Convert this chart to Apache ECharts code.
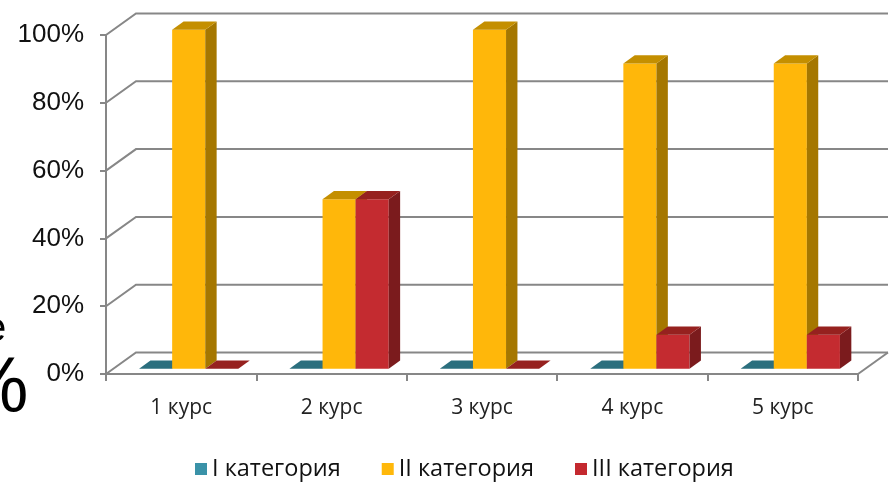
<!DOCTYPE html>
<html>
<head>
<meta charset="utf-8">
<script src="https://cdn.jsdelivr.net/npm/echarts@6/dist/echarts.min.js"></script>
<style>
  html, body { margin: 0; padding: 0; background: #fff; }
  #main { width: 894px; height: 485px; }
</style>
</head>
<body>
<div id="main"></div>
<script>
// data
const courses = ['1 курс', '2 курс', '3 курс', '4 курс', '5 курс'];
const seriesNames = ['I категория', 'II категория', 'III категория'];
const cat1 = [0, 0, 0, 0, 0];
const cat2 = [100, 50, 100, 90, 90];
const cat3 = [0, 50, 0, 10, 10];
const gridLevels = [0, 20, 40, 60, 80, 100];

// colours: legend / front, top, side
const palette = [
    { legend: '#3a92a8', front: '#31849b', top: '#2b6f7e', side: '#215a66' },
    { legend: '#ffb80a', front: '#ffb70a', top: '#c48f00', side: '#a57700' },
    { legend: '#c4292f', front: '#c42b30', top: '#96211f', side: '#7b1b1d' }
];

// 3d depth of the plot box, pixels
const DX = 30, DY = -21.5;
const D1 = 0.25, D2 = 0.63;

function barItem(s) {
    return function (params, api) {
        const i = api.value(0);
        const v = api.value(1);
        const band = api.size([1, 0])[0];
        const bw = band * 0.22;
        const c = api.coord([i, v]);
        const base = api.coord([i, 0]);
        const L = c[0] - 1.5 * bw + s * bw + DX * D1;
        const yv = c[1] + DY * D1;
        const y0 = base[1] + DY * D1;
        const ddx = DX * (D2 - D1), ddy = DY * (D2 - D1);
        const col = palette[s];
        const children = [];
        if (v > 0) {
            children.push({
                type: 'polygon',
                shape: { points: [[L, yv], [L + bw, yv], [L + bw, y0], [L, y0]] },
                style: { fill: col.front }
            });
            children.push({
                type: 'polygon',
                shape: { points: [[L + bw, yv], [L + bw + ddx, yv + ddy], [L + bw + ddx, y0 + ddy], [L + bw, y0]] },
                style: { fill: col.side }
            });
        }
        children.push({
            type: 'polygon',
            shape: { points: [[L, yv], [L + bw, yv], [L + bw + ddx, yv + ddy], [L + ddx, yv + ddy]] },
            style: { fill: col.top }
        });
        return { type: 'group', children: children };
    };
}

function frameItem(params, api) {
    const v = api.value(1);
    const band = api.size([1, 0])[0];
    const p0 = api.coord([0, v]);
    const p1 = api.coord([courses.length - 1, v]);
    const xl = p0[0] - band / 2;
    const xr = p1[0] + band / 2;
    const y = p0[1];
    const style = { stroke: '#878787', lineWidth: 2, fill: null };
    const children = [{
        type: 'polyline',
        shape: { points: [[xl, y], [xl + DX, y + DY], [xr + DX, y + DY]] },
        style: style
    }];
    if (v === 0) {
        children.push({
            type: 'line',
            shape: { x1: xr, y1: y, x2: xr + DX, y2: y + DY },
            style: style
        });
    }
    return { type: 'group', children: children };
}

const chart = echarts.init(document.getElementById('main'));
const values = [cat1, cat2, cat3];

const option = {
    animation: false,
    grid: { left: 106, right: 36, top: 35, bottom: 111 },
    legend: {
        left: 190,
        bottom: -1,
        icon: 'rect',
        itemWidth: 12,
        itemHeight: 12,
        itemGap: 41,
        textStyle: { fontFamily: 'Open Sans', fontSize: 23.5, color: '#111' },
        data: seriesNames.map((n, k) => ({ name: n, itemStyle: { color: palette[k].legend } }))
    },
    xAxis: {
        type: 'category',
        data: courses,
        axisLine: { lineStyle: { color: '#878787', width: 2 } },
        axisTick: { show: true, length: 7, lineStyle: { color: '#878787', width: 2 } },
        axisLabel: { margin: 24, fontFamily: 'Open Sans', fontSize: 21, color: '#222' }
    },
    yAxis: {
        type: 'value',
        min: 0,
        max: 100,
        interval: 20,
        axisLine: { show: true, lineStyle: { color: '#878787', width: 2 } },
        axisTick: { show: true, length: 6, lineStyle: { color: '#878787', width: 2 } },
        splitLine: { show: false },
        axisLabel: {
            formatter: '{value}%',
            margin: 22,
            fontFamily: 'Liberation Sans',
            fontSize: 26,
            color: '#111'
        }
    },
    graphic: [
        { type: 'text', left: -16, top: 310, style: { text: 'е', fontFamily: 'Liberation Sans', fontSize: 40, fill: '#000' } },
        { type: 'text', left: -40, top: 352, style: { text: '%', fontFamily: 'Liberation Sans', fontSize: 77, fill: '#000' } }
    ],
    series: [{
        name: 'frame',
        type: 'custom',
        z: 1,
        silent: true,
        renderItem: frameItem,
        encode: { x: 0, y: 1 },
        data: gridLevels.map(v => [0, v])
    }].concat(seriesNames.map((n, s) => ({
        name: n,
        type: 'custom',
        z: 3,
        itemStyle: { color: palette[s].legend },
        renderItem: barItem(s),
        encode: { x: 0, y: 1 },
        data: values[s].map((v, i) => [i, v])
    })))
};

chart.setOption(option);
</script>
</body>
</html>
